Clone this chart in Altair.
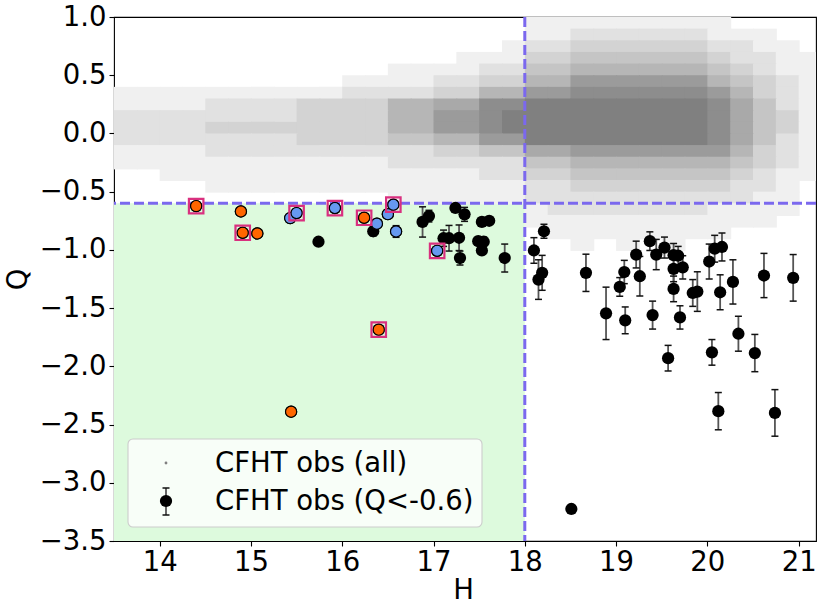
import altair as alt
import pandas as pd

# ---------------- values ----------------
H_CUT = 18.0
Q_CUT = -0.6
H_DOMAIN = [13.5, 21.19]
Q_DOMAIN = [-3.5, 1.0]
H_TICKS = [14, 15, 16, 17, 18, 19, 20, 21]
Q_TICKS = [-3.5, -3.0, -2.5, -2.0, -1.5, -1.0, -0.5, 0.0, 0.5, 1.0]

# Grey cloud "CFHT obs (all)": estimated dot density (0-9) per cell.
# Columns: H bins of 0.25 starting at 13.5; rows: Q bins of 0.1, top edge listed.
cloud_h_start = 13.5
cloud_h_step = 0.25
cloud_q_step = 0.1
cloud_q_top = [1.0, 0.9, 0.8, 0.7, 0.6, 0.5, 0.4, 0.3, 0.2, 0.1,
               0.0, -0.1, -0.2, -0.3, -0.4, -0.5, -0.6, -0.7, -0.8, -0.9]
cloud_rows = [
    "0000000000000000001111111110000",
    "0000000000000000001122222211100",
    "0000000000000000012233333322110",
    "0000000000000001113344444432211",
    "0000000000001111224455555543211",
    "0000000000111122335577777754321",
    "1111111111222233557788888875321",
    "1111222233335566889999999986421",
    "2222222233335577899999999986431",
    "2222333333335577899999999986431",
    "2222222233334455779999999986421",
    "1111222222222233446677777775321",
    "1111111111112222224455555554321",
    "0011111111111111223344444443211",
    "0000111111111111112233333332210",
    "0000000000001111112222222222110",
    "0000000000000000001222222211110",
    "0000000000000000001111111111100",
    "0000000000000000000111111110000",
    "0000000000000000000010101000000",
]

# "CFHT obs (Q<-0.6)": black points with error bars
obs_H = [15.74, 16.34, 16.88, 16.95, 17.24, 17.34, 17.11, 17.17, 17.28, 17.29,
         17.53, 17.61, 17.49, 17.55, 17.53, 17.78,
         18.21, 18.10, 18.19, 18.15, 18.67, 18.89, 19.04, 19.09, 19.10, 19.22,
         19.26, 19.37, 19.40, 19.44, 19.53, 19.57, 19.63, 19.68, 19.63, 19.73,
         19.63, 19.70, 19.84, 19.89, 20.02, 20.05, 20.08, 20.16, 20.12, 20.14,
         20.28, 20.34, 20.52, 20.62, 20.74, 20.94, 18.51,
         14.40, 14.89, 14.91, 15.07, 16.24, 16.40, 15.44,
         15.43, 15.50, 15.92, 16.38, 16.50, 16.56, 16.59, 17.04]
obs_Q = [-0.93, -0.84, -0.76, -0.71, -0.64, -0.695, -0.90, -0.90, -0.896, -1.07,
         -0.76, -0.75, -0.925, -0.93, -1.005, -1.07,
         -0.84, -1.005, -1.197, -1.255, -1.197, -1.545, -1.318, -1.19, -1.605, -1.04,
         -1.226, -0.925, -1.56, -1.04, -0.98, -1.93, -1.045, -1.05, -1.163, -1.15,
         -1.335, -1.58, -1.37, -1.358, -1.10, -1.88, -0.99, -0.975, -2.385, -1.364,
         -1.275, -1.72, -1.886, -1.22, -2.40, -1.24, -3.225,
         -0.624, -0.67, -0.853, -0.859, -0.724, -1.685, -2.39,
         -0.727, -0.684, -0.641, -0.775, -0.693, -0.612, -0.842, -1.008]
obs_err = [0.0, 0.04, 0.13, 0.05, 0.03, 0.06, 0.07, 0.11, 0.11, 0.06,
           0.03, 0.03, 0.03, 0.04, 0.03, 0.12,
           0.06, 0.11, 0.15, 0.17, 0.16, 0.225, 0.08, 0.10, 0.115, 0.115,
           0.17, 0.08, 0.12, 0.13, 0.09, 0.11, 0.10, 0.08, 0.11, 0.10,
           0.11, 0.10, 0.115, 0.17, 0.15, 0.11, 0.115, 0.12, 0.16, 0.15,
           0.19, 0.15, 0.16, 0.19, 0.20, 0.20, 0.0,
           0.0, 0.0, 0.0, 0.0, 0.0, 0.03, 0.02,
           0.0, 0.0, 0.0, 0.0, 0.0, 0.0, 0.05, 0.0]

# Highlighted objects
orange_H = [14.40, 14.89, 14.91, 15.07, 16.24, 16.40, 15.44]
orange_Q = [-0.624, -0.67, -0.853, -0.859, -0.724, -1.685, -2.39]
orange_boxed = [True, False, True, False, True, True, False]
blue_H = [15.43, 15.50, 15.92, 16.38, 16.50, 16.56, 16.59, 17.04]
blue_Q = [-0.727, -0.684, -0.641, -0.775, -0.693, -0.612, -0.842, -1.008]
blue_boxed = [False, True, True, False, False, True, False, True]

legend_labels = ["CFHT obs (all)", "CFHT obs (Q<-0.6)"]

# ---------------- tables ----------------
cells = []
for q_top, row in zip(cloud_q_top, cloud_rows):
    for i, ch in enumerate(row):
        lvl = int(ch)
        if lvl > 0:
            h0 = cloud_h_start + i * cloud_h_step
            cells.append({"h0": h0, "h1": h0 + cloud_h_step,
                          "q0": round(q_top - cloud_q_step, 3), "q1": q_top,
                          "level": lvl})
cloud = pd.DataFrame(cells)

obs = pd.DataFrame({"H": obs_H, "Q": obs_Q, "err": obs_err})
obs["lo"] = obs["Q"] - obs["err"]
obs["hi"] = obs["Q"] + obs["err"]
bars = obs[obs["err"] > 0]

orange = pd.DataFrame({"H": orange_H, "Q": orange_Q, "boxed": orange_boxed})
blue = pd.DataFrame({"H": blue_H, "Q": blue_Q, "boxed": blue_boxed})
boxed = pd.concat([orange[orange.boxed], blue[blue.boxed]])

region = pd.DataFrame({"h0": [H_DOMAIN[0]], "h1": [H_CUT], "q0": [Q_DOMAIN[0]], "q1": [Q_CUT]})
one = pd.DataFrame({"_": [0]})

FONT = "DejaVu Sans"
FS = 27.5

xs = alt.Scale(domain=H_DOMAIN, nice=False, zero=False)
ys = alt.Scale(domain=Q_DOMAIN, nice=False, zero=False)
xaxis = alt.Axis(values=H_TICKS, format="d", title="H", grid=False, domain=False,
                 tickSize=5, tickWidth=1.1, tickColor="black", labelPadding=2,
                 labelFontSize=FS, labelColor="black", labelFlush=False, labelOverlap=False,
                 titleFontSize=FS, titleFontWeight="normal", titleColor="black",
                 titleX=349, titleY=49, titleAlign="center", titleBaseline="middle")
yaxis = alt.Axis(values=Q_TICKS, format=".1f", title="Q", grid=False, domain=False,
                 tickSize=5, tickWidth=1.1, tickColor="black", labelPadding=3,
                 labelFontSize=FS, labelColor="black", labelFlush=False, labelOverlap=False,
                 labelExpr="replace(datum.label, '-', '\u2212')",
                 titleFontSize=FS, titleFontWeight="normal", titleColor="black",
                 titleX=-96, titleY=262, titleAngle=270, titleAlign="center",
                 titleBaseline="middle")


def X(f):
    return alt.X(f, type="quantitative", scale=xs, axis=xaxis)


def Y(f):
    return alt.Y(f, type="quantitative", scale=ys, axis=yaxis)


green = alt.Chart(region).mark_rect(color="#ddfadd", opacity=1).encode(
    x=X("h0"), x2="h1", y=Y("q1"), y2="q0")

cloud_layer = alt.Chart(cloud).mark_rect(clip=True, x2Offset=1, y2Offset=1).encode(
    x=X("h0"), x2="h1", y=Y("q1"), y2="q0",
    color=alt.Color("level:Q", scale=alt.Scale(domain=[0, 9], range=["#ffffff", "#808080"]),
                    legend=None))

dash = dict(color="#7B68EE", strokeWidth=3, strokeDash=[10, 4])
hline = alt.Chart(pd.DataFrame({"Q": [Q_CUT]})).mark_rule(**dash).encode(y=Y("Q"))
vline = alt.Chart(pd.DataFrame({"H": [H_CUT]})).mark_rule(**dash).encode(x=X("H"))

ebar = alt.Chart(bars).mark_rule(color="#555555", strokeWidth=1.8, clip=True).encode(
    x=X("H"), y=Y("lo"), y2="hi")
cap_lo = alt.Chart(bars).mark_rule(color="#111111", strokeWidth=1.5, xOffset=-3.5,
                                   x2Offset=3.5, clip=True).encode(
    x=X("H"), x2="H", y=Y("lo"))
cap_hi = alt.Chart(bars).mark_rule(color="#111111", strokeWidth=1.5, xOffset=-3.5,
                                   x2Offset=3.5, clip=True).encode(
    x=X("H"), x2="H", y=Y("hi"))

black_pts = alt.Chart(obs).mark_circle(size=150, color="black", opacity=1).encode(
    x=X("H"), y=Y("Q"))

orange_pts = alt.Chart(orange).mark_circle(size=125, fill="#ff6600", stroke="black",
                                           strokeWidth=1.2, opacity=1).encode(
    x=X("H"), y=Y("Q"))
blue_pts = alt.Chart(blue).mark_circle(size=125, fill="#6699f0", stroke="black",
                                       strokeWidth=1.2, opacity=1).encode(
    x=X("H"), y=Y("Q"))
boxes = alt.Chart(boxed).mark_square(size=210, filled=False, color="#d9307f",
                                     strokeWidth=2.2, opacity=1).encode(
    x=X("H"), y=Y("Q"))

# legend (drawn by hand to show the error-bar symbol)
leg_box = alt.Chart(one).mark_rect(fill="white", fillOpacity=0.8, stroke="#cccccc",
                                   strokeWidth=1.1, cornerRadius=5).encode(
    x=alt.value(14), x2=alt.value(368), y=alt.value(422), y2=alt.value(510))
leg_dot = alt.Chart(one).mark_circle(size=8, color="#808080", opacity=1).encode(
    x=alt.value(52), y=alt.value(446))
leg_bar = alt.Chart(one).mark_rule(color="#555555", strokeWidth=1.8).encode(
    x=alt.value(52), y=alt.value(471), y2=alt.value(498))
leg_cap1 = alt.Chart(one).mark_rule(color="#111111", strokeWidth=1.5).encode(
    x=alt.value(48.5), x2=alt.value(55.5), y=alt.value(471))
leg_cap2 = alt.Chart(one).mark_rule(color="#111111", strokeWidth=1.5).encode(
    x=alt.value(48.5), x2=alt.value(55.5), y=alt.value(498))
leg_pt = alt.Chart(one).mark_circle(size=150, color="black", opacity=1).encode(
    x=alt.value(52), y=alt.value(484))
leg_t1 = alt.Chart(one).mark_text(align="left", baseline="middle", fontSize=FS,
                                  font=FONT, color="black").encode(
    x=alt.value(101), y=alt.value(447), text=alt.value(legend_labels[0]))
leg_t2 = alt.Chart(one).mark_text(align="left", baseline="middle", fontSize=FS,
                                  font=FONT, color="black").encode(
    x=alt.value(101), y=alt.value(485), text=alt.value(legend_labels[1]))

chart = alt.layer(
    green, cloud_layer, hline, vline, ebar, cap_lo, cap_hi, black_pts,
    orange_pts, blue_pts, boxes,
    leg_box, leg_dot, leg_bar, leg_cap1, leg_cap2, leg_pt, leg_t1, leg_t2,
).properties(
    width=702, height=524,
    padding={"left": 114, "top": 17, "right": 1, "bottom": 63},
    autosize=alt.AutoSizeParams(type="none"),
    background="white",
).configure(font=FONT).configure_view(stroke="black", strokeWidth=1.1)

chart.save("out.html", embed_options={"renderer": "svg", "actions": False})
